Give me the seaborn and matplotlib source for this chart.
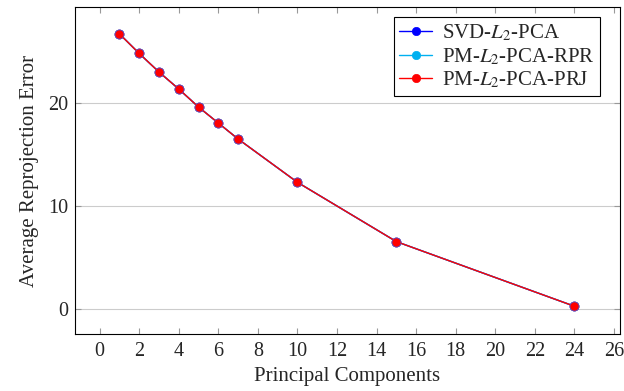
import matplotlib
matplotlib.use("Agg")
import matplotlib.pyplot as plt
import seaborn as sns
import pandas as pd

components = [1, 2, 3, 4, 5, 6, 7, 10, 15, 24]
svd = [26.7, 24.8, 23.0, 21.35, 19.6, 18.05, 16.5, 12.3, 6.55, 0.28]
rpr = [26.7, 24.8, 23.0, 21.35, 19.6, 18.05, 16.5, 12.3, 6.55, 0.28]
prj = [26.7, 24.8, 23.0, 21.35, 19.6, 18.05, 16.5, 12.3, 6.55, 0.28]
labels = [r"SVD-$L_2$-PCA", r"PM-$L_2$-PCA-RPR", r"PM-$L_2$-PCA-PRJ"]
colors = ["#0000ff", "#00b0f0", "#ff0000"]
xticks = list(range(0, 27, 2))
yticks = [0, 10, 20]

sns.set_theme(style="white")
plt.rcParams["font.family"] = ["Liberation Serif", "DejaVu Serif"]
plt.rcParams["mathtext.fontset"] = "stix"

rows = []
for lab, vals in zip(labels, [svd, rpr, prj]):
    for x, y in zip(components, vals):
        rows.append({"x": x, "y": y, "method": lab})
df = pd.DataFrame(rows)

fig = plt.figure(figsize=(6.24, 3.91), dpi=100)
ax = fig.add_axes([0.120, 0.146, 0.8736, 0.836])
sns.lineplot(data=df, x="x", y="y", hue="method", palette=dict(zip(labels, colors)),
             marker="o", markersize=6.5, markeredgecolor="#6050c0", markeredgewidth=0.5,
             linewidth=1.0, ax=ax, legend=True)
ax.set_xlim(-1.25, 26.3)
ax.set_ylim(-2.4, 29.3)
ax.set_xticks(xticks)
ax.set_yticks(yticks)
ax.yaxis.grid(True, color="#cccccc", linewidth=0.8)
ax.xaxis.grid(False)
ax.tick_params(axis="both", direction="in", length=4, color="#999999", labelsize=14.5,
               top=True, right=True, bottom=True, left=True, width=0.8)
ax.tick_params(axis="x", pad=6)
ax.tick_params(axis="y", pad=5)
for s in ax.spines.values():
    s.set_color("black")
    s.set_linewidth(0.8)
ax.set_xlabel("Principal Components", fontsize=15, labelpad=4)
ax.set_ylabel("Average Reprojection Error", fontsize=15, labelpad=6)
handles, _ = ax.get_legend_handles_labels()
for h, c in zip(handles, colors):
    h.set_markeredgecolor(c)
    h.set_markersize(6)
leg = ax.legend(handles, labels, loc="upper right", fontsize=15, frameon=True, fancybox=False,
                edgecolor="black", framealpha=1, borderpad=0.25, handlelength=1.6,
                handletextpad=0.45, labelspacing=0.15, borderaxespad=0,
                bbox_to_anchor=(0.963, 0.969))
leg.get_frame().set_linewidth(0.8)
fig.savefig("out.png", dpi=100)
